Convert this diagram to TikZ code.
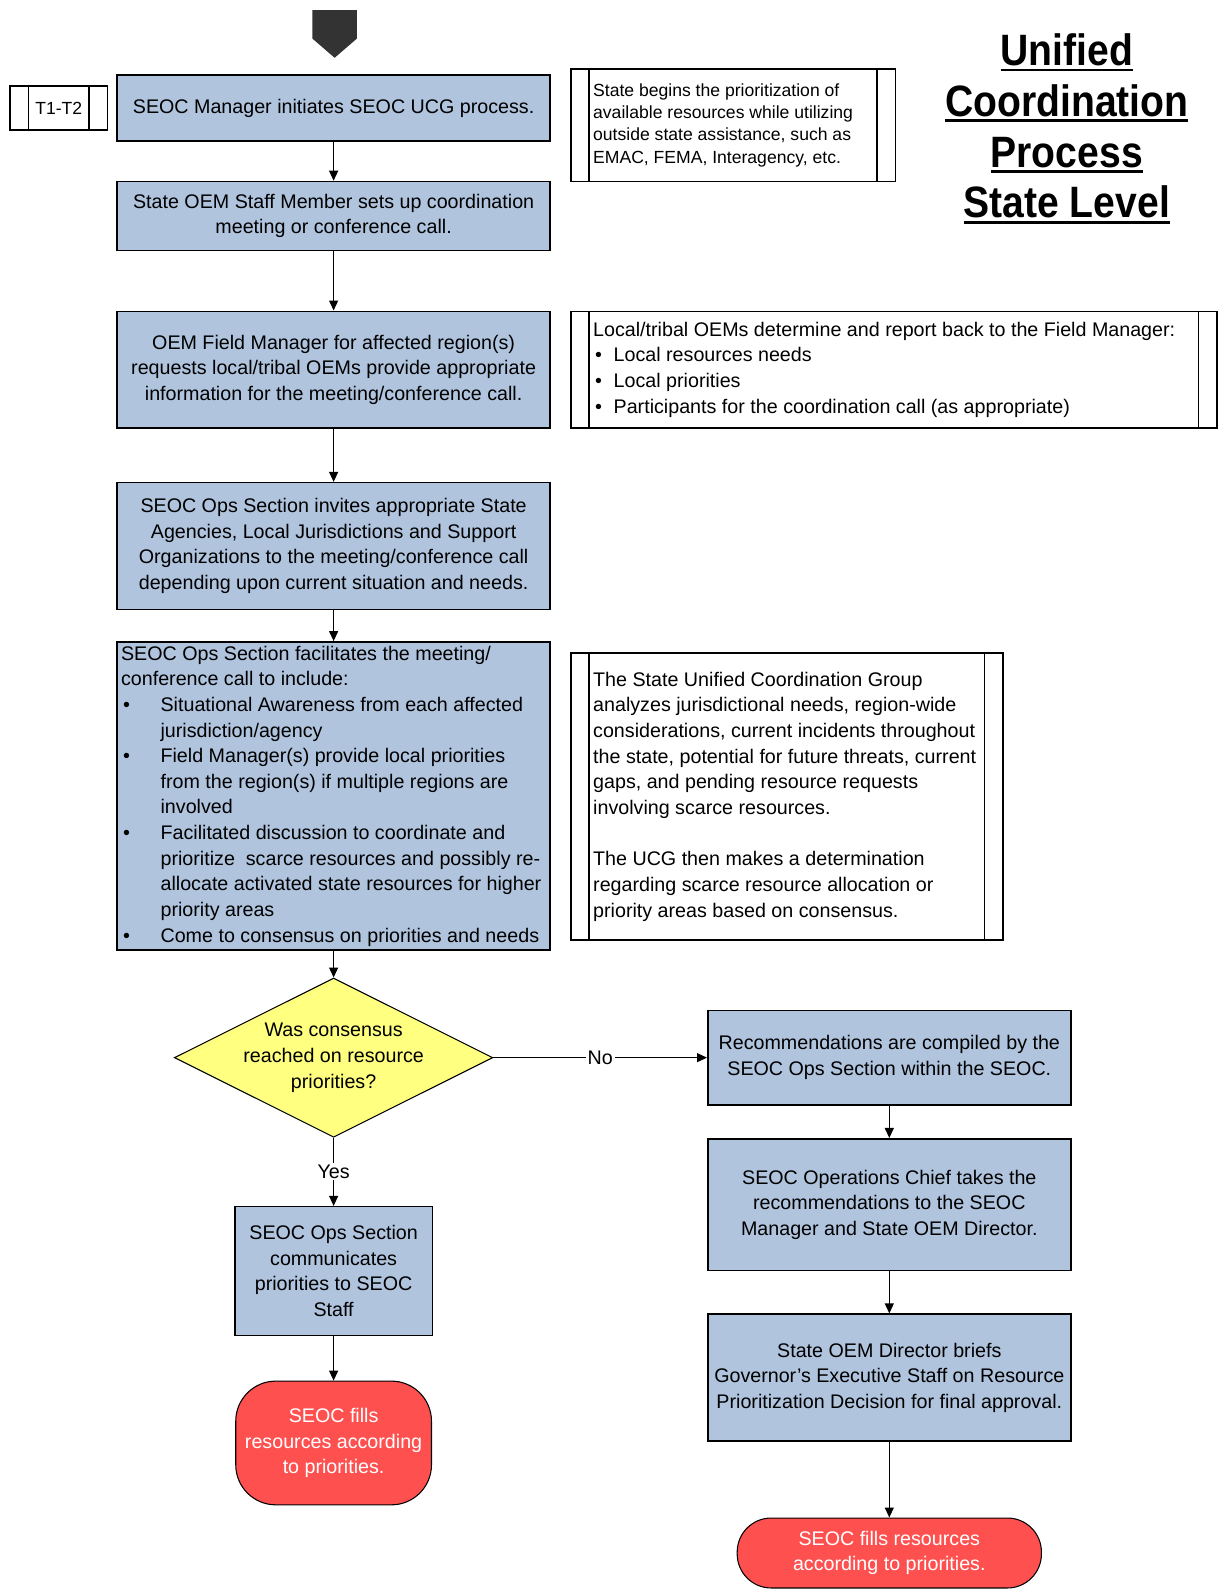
\documentclass[tikz,border=0pt]{standalone}
\usepackage{fontspec}
\setmainfont{Liberation Sans}
\newfontfamily\titlefont[FakeStretch=0.89]{Liberation Sans}
\usetikzlibrary{arrows.meta,positioning,shapes.geometric}

\definecolor{boxblue}{RGB}{176,196,222}
\definecolor{qyellow}{RGB}{255,255,128}
\definecolor{termred}{RGB}{255,80,80}
\definecolor{connector}{RGB}{51,51,51}

\newcommand{\bodyfont}{\fontsize{11.2pt}{14.6pt}\selectfont}
\newcommand{\notefont}{\fontsize{10pt}{12.7pt}\selectfont}
\newcommand{\itembul}{\makebox[0.79cm][l]{\hspace{0.04cm}\textbullet}}
\newcommand{\itemcont}{\hspace*{0.79cm}}
\newcommand{\notebul}{\makebox[0.41cm][l]{\hspace{0.04cm}\textbullet}}
% left aligned lines that never wrap
\newcommand{\flushblock}[2]{\makebox[#1][l]{\begin{tabular}{@{}l@{}}#2\end{tabular}}}
\newsavebox{\titlebox}
\newcommand{\thickul}[1]{\sbox{\titlebox}{#1}%
  \rlap{\raisebox{-3.2pt}{\rule{\wd\titlebox}{1.6pt}}}\usebox{\titlebox}}

\begin{document}
\begin{tikzpicture}[x=0.02028cm, y=-0.02028cm,
  proc/.style={draw, line width=0.9pt, fill=boxblue, minimum width=8.66cm,
    inner sep=0pt, align=center, font=\bodyfont},
  dbl/.style={draw, line width=0.9pt, fill=white,
    path picture={
      \draw[line width=0.9pt]
        ([xshift=0.365cm]path picture bounding box.north west) --
        ([xshift=0.365cm]path picture bounding box.south west)
        ([xshift=-0.365cm]path picture bounding box.north east) --
        ([xshift=-0.365cm]path picture bounding box.south east);
    }},
  note/.style={dbl, inner sep=0pt, font=\bodyfont},
  tag/.style={dbl, minimum width=1.947cm, minimum height=0.872cm, inner sep=0pt,
    font=\notefont},
  decision/.style={diamond, aspect=2, draw, line width=0.6pt, fill=qyellow,
    minimum width=6.287cm, minimum height=3.164cm, inner sep=0pt,
    align=center, font=\bodyfont},
  term/.style={draw, line width=0.6pt, fill=termred, text=white, inner sep=0pt,
    align=center, font=\bodyfont},
  titletext/.style={align=center, font={\titlefont\bfseries\fontsize{25pt}{28.85pt}\selectfont}},
  lbl/.style={fill=white, inner sep=1pt, font=\bodyfont},
  arr/.style={-{Triangle[length=2mm, width=1.8mm]}, line width=0.7pt}
]
\useasboundingbox (0,0) rectangle (1202,1568);

% off-page connector
\fill[connector] (308,10) -- (352,10) -- (352,38) -- (330,57) -- (308,38) -- cycle;

\node[tag] (t12) at (58,106.5) {T1-T2};
\node[proc, minimum height=1.318cm] (init) at (329,106.5)
  {SEOC Manager initiates SEOC UCG process.};
\node[note, minimum width=6.49cm, minimum height=2.251cm, font=\notefont] (prio) at (723,123.5)
  {\flushblock{5.598cm}{State begins the prioritization of\\ available resources while utilizing\\
   outside state assistance, such as\\ EMAC, FEMA, Interagency, etc.}};

\node[titletext] (title) at (1052,127)
  {\thickul{Unified}\\ \thickul{Coordination}\\ \thickul{Process}\\ \thickul{State Level}};

\node[proc, minimum height=1.379cm] (setup) at (329,213)
  {State OEM Staff Member sets up coordination\\ meeting or conference call.};
\node[proc, minimum height=2.332cm] (field) at (329,364.5)
  {OEM Field Manager for affected region(s)\\ requests local/tribal OEMs provide appropriate\\
   information for the meeting/conference call.};
\node[note, minimum width=12.918cm, minimum height=2.332cm] (local) at (881.5,364.5)
  {\flushblock{12.026cm}{Local/tribal OEMs determine and report back to the Field Manager:\\
   \notebul Local resources needs\\
   \notebul Local priorities\\
   \notebul Participants for the coordination call (as appropriate)}};
\node[proc, minimum height=2.535cm] (invite) at (329,538.5)
  {SEOC Ops Section invites appropriate State\\ Agencies, Local Jurisdictions and Support\\
   Organizations to the meeting/conference call\\ depending upon current situation and needs.};
\node[proc, minimum height=6.165cm] (facil) at (329,785)
  {\flushblock{8.5cm}{SEOC Ops Section facilitates the meeting/\\
   conference call to include:\\
   \itembul Situational Awareness from each affected\\
   \itemcont jurisdiction/agency\\
   \itembul Field Manager(s) provide local priorities\\
   \itemcont from the region(s) if multiple regions are\\
   \itemcont involved\\
   \itembul Facilitated discussion to coordinate and\\
   \itemcont prioritize\ \ scarce resources and possibly re-\\
   \itemcont allocate activated state resources for higher\\
   \itemcont priority areas\\
   \itembul Come to consensus on priorities and needs}};
\node[note, minimum width=8.639cm, minimum height=5.739cm] (ucg) at (776,785.5)
  {\flushblock{7.747cm}{The State Unified Coordination Group\\
   analyzes jurisdictional needs, region-wide\\
   considerations, current incidents throughout\\
   the state, potential for future threats, current\\
   gaps, and pending resource requests\\
   involving scarce resources.\\[14.6pt]
   The UCG then makes a determination\\
   regarding scarce resource allocation or\\
   priority areas based on consensus.}};

\node[decision] (cons) at (329,1043) {Was consensus\\ reached on resource\\ priorities?};

\node[proc, minimum width=7.26cm, minimum height=1.886cm] (recs) at (877,1043)
  {Recommendations are compiled by the\\ SEOC Ops Section within the SEOC.};
\node[proc, minimum width=7.26cm, minimum height=2.636cm] (chief) at (877,1188)
  {SEOC Operations Chief takes the\\ recommendations to the SEOC\\ Manager and State OEM Director.};
\node[proc, minimum width=7.26cm, minimum height=2.535cm] (brief) at (877,1358.5)
  {State OEM Director briefs\\ Governor's Executive Staff on Resource\\ Prioritization Decision for final approval.};
\node[term, minimum width=6.084cm, minimum height=1.399cm, rounded corners=0.68cm] (fillR) at (877,1531.5)
  {SEOC fills resources\\ according to priorities.};

\node[proc, minimum width=3.955cm, minimum height=2.576cm] (comm) at (329,1253.5)
  {SEOC Ops Section\\ communicates\\ priorities to SEOC\\ Staff};
\node[term, minimum width=3.914cm, minimum height=2.474cm, rounded corners=0.8cm] (fillL) at (329,1423)
  {SEOC fills\\ resources according\\ to priorities.};

\draw[arr] (init) -- (setup);
\draw[arr] (setup) -- (field);
\draw[arr] (field) -- (invite);
\draw[arr] (invite) -- (facil);
\draw[arr] (facil) -- (cons);
\draw[arr] (cons) -- node[lbl] {Yes} (comm);
\draw[arr] (comm) -- (fillL);
\draw[arr] (cons) -- node[lbl] {No} (recs);
\draw[arr] (recs) -- (chief);
\draw[arr] (chief) -- (brief);
\draw[arr] (brief) -- (fillR);
\end{tikzpicture}
\end{document}
